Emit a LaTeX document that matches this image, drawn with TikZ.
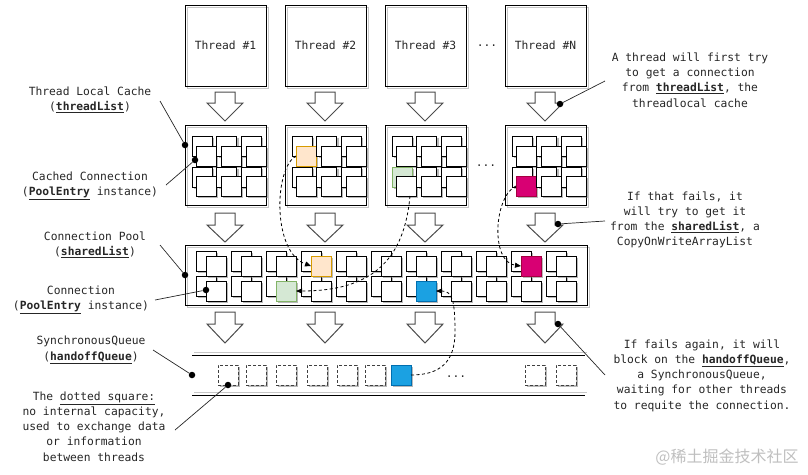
\documentclass[tikz,border=0pt]{standalone}
\usepackage{fontspec}
\newfontfamily\hand{DejaVu Sans Mono}
\newfontfamily\cjk{Noto Sans CJK SC}
\usetikzlibrary{arrows.meta,shadows}
\definecolor{oFill}{HTML}{FFE6CC}\definecolor{oDraw}{HTML}{D79B00}
\definecolor{gFill}{HTML}{D5E8D4}\definecolor{gDraw}{HTML}{82B366}
\definecolor{bFill}{HTML}{1BA1E2}\definecolor{bDraw}{HTML}{006EAF}
\definecolor{mFill}{HTML}{D80073}\definecolor{mDraw}{HTML}{A50040}
\tikzset{
  lbl/.style={font=\hand\fontsize{11.3}{15.2}\selectfont, align=center, inner sep=0pt, text=black!85},
  sq/.style={draw, line width=0.8pt, fill=white, minimum size=20pt, inner sep=0pt, outer sep=0pt,
     drop shadow={shadow xshift=2pt, shadow yshift=-2pt, fill=black!55}},
  osq/.style={fill=oFill, draw=oDraw},
  gsq/.style={fill=gFill, draw=gDraw},
  bsq/.style={fill=bFill, draw=bDraw},
  msq/.style={fill=mFill, draw=mDraw},
  qsq/.style={sq, draw=black!75, dash pattern=on 3pt off 2pt},
  bigbox/.style={draw, line width=0.9pt, inner sep=0pt, outer sep=0pt,
     preaction={draw=black!22, line width=0.9pt, transform canvas={shift={(2.5pt,-2.5pt)}}}},
  blockarr/.style={draw=black!70, line width=1pt, fill=white, line join=miter},
  dot/.style={circle, fill=black, inner sep=0pt, minimum size=6.5pt},
  pointer/.style={line width=0.7pt, black!85},
  dconn/.style={dash pattern=on 3pt off 2.5pt, line width=0.8pt, -{Triangle[length=6pt,width=5pt]}},
  s2-f-1-0/.style={osq},
  s3-b-2-0/.style={gsq},
  s4-f-2-0/.style={msq},
  p-f-1-4/.style={osq},
  p-f-2-3/.style={gsq},
  p-f-2-7/.style={bsq},
  p-f-1-10/.style={msq},
}
\begin{document}
\begin{tikzpicture}[x=1pt,y=-1pt]
\useasboundingbox (0,0) rectangle (808,474);

% threads
\node[bigbox, minimum width=81pt, minimum height=81pt, lbl] (t1) at (225.5,45.5) {Thread \#1};
\node[bigbox, minimum width=81pt, minimum height=81pt, lbl] (t2) at (325.5,45.5) {Thread \#2};
\node[bigbox, minimum width=81pt, minimum height=81pt, lbl] (t3) at (425.5,45.5) {Thread \#3};
\node[bigbox, minimum width=81pt, minimum height=81pt, lbl] (tN) at (545.5,45.5) {Thread \#N};
\node[lbl] (tdots) at (487,46) {...};

% block arrows
\foreach \cx in {225,325,425,545} {
  \foreach \yt/\yh/\yp in {92/103/121, 213/225/242, 312/324/343} {
    \draw[blockarr] (\cx-10,\yt) -- (\cx+10,\yt) -- (\cx+10,\yh) -- (\cx+18,\yh) -- (\cx,\yp)
      -- (\cx-18,\yh) -- (\cx-10,\yh) -- cycle;
  }
}

% cache boxes
\foreach \L/\n in {185/1,285/2,385/3,505/4} {
  \node[bigbox, minimum width=81pt, minimum height=80pt] (cache\n) at (\L+40.5,165) {};
  \foreach \c in {0,1,2} {
    \node[sq, s\n-b-1-\c/.try] (c\n-b-1-\c) at (\L+17+24.5*\c,146) {};
    \node[sq, s\n-f-1-\c/.try] (c\n-f-1-\c) at (\L+21+25*\c,156) {};
  }
  \foreach \c in {0,1,2} {
    \node[sq, s\n-b-2-\c/.try] (c\n-b-2-\c) at (\L+17+24.5*\c,177) {};
    \node[sq, s\n-f-2-\c/.try] (c\n-f-2-\c) at (\L+21+25*\c,186) {};
  }
}
\node[lbl] (cdots) at (486,166) {...};

% connection pool
\node[bigbox, minimum width=402pt, minimum height=60pt] (pool) at (386,275) {};
\foreach \c in {1,...,11} {
  \node[sq] (p-b-1-\c) at (196+35*\c-35+10,261) {};
  \node[sq] (p-b-2-\c) at (196+35*\c-35+10,286) {};
  \node[sq, p-f-1-\c/.try] (p-f-1-\c) at (196+35*\c-35+20,266) {};
  \node[sq, p-f-2-\c/.try] (p-f-2-\c) at (196+35*\c-35+20,291) {};
}

% handoff queue
\coordinate (qtl) at (192,355); \coordinate (qtr) at (585,355);
\coordinate (qbl) at (192,395); \coordinate (qbr) at (585,395);
\draw[black!22, line width=0.9pt] ([shift={(2pt,2.5pt)}]qtl) -- ([shift={(2pt,2.5pt)}]qtr);
\draw[black!22, line width=0.9pt] ([shift={(2pt,2.5pt)}]qbl) -- ([shift={(2pt,2.5pt)}]qbr);
\draw[line width=0.9pt] (qtl) -- (qtr);
\draw[line width=0.9pt] (qbl) -- (qbr);
\foreach \qx [count=\i] in {228,256,286,317,347,375} {
  \node[qsq] (q\i) at (\qx,375) {};
}
\node[sq, bsq] (qb) at (401,375) {};
\node[qsq] (q8) at (535,375) {};
\node[qsq] (q9) at (566,375) {};
\node[lbl] (qdots) at (456,377) {...};

% dashed hand-over connectors
\draw[dconn] (c2-f-1-0.west) .. controls (274,168) and (272,252) .. (p-f-1-4.west);
\draw[dconn] ([xshift=4pt]c3-f-2-0.south) .. controls (404,262) and (370,291) .. (p-f-2-3.east);
\draw[dconn] (c4-f-2-0.west) .. controls (494,196) and (490,262) .. (p-f-1-10.west);
\draw[dconn] (qb.east) .. controls (440,375) and (455,362) .. (455,332)
   .. controls (455,300) and (452,291) .. (p-f-2-7.east);

% left labels
\node[lbl] (lTLC) at (90,100) {Thread Local Cache\\(\underline{\textbf{threadList}})};
\node[lbl] (lCC) at (90,185.5) {Cached Connection\\(\underline{\textbf{PoolEntry}} instance)};
\node[lbl] (lCP) at (95,245) {Connection Pool\\(\underline{\textbf{sharedList}})};
\node[lbl] (lCon) at (81,300) {Connection\\(\underline{\textbf{PoolEntry}} instance)};
\node[lbl] (lSQ) at (91,350) {SynchronousQueue\\(\underline{\textbf{handoffQueue}})};
\node[lbl] (lDS) at (94,426.5) {The \underline{dotted square:}\\no internal capacity,\\used to exchange data\\or information\\between threads};

\node[dot] (d1) at (185,145) {};
\node[dot] (d2) at (195,160) {};
\node[dot] (d3) at (185,275) {};
\node[dot] (d4) at (206,290) {};
\node[dot] (d5) at (192,375) {};
\node[dot] (d6) at (228,385) {};
\coordinate (e1) at (160,101);
\coordinate (e2) at (166,185);
\coordinate (e3) at (160,245);
\coordinate (e4) at (155,300);
\coordinate (e5) at (153,350);
\coordinate (e6) at (175,430);
\foreach \i in {1,...,6} { \draw[pointer] (e\i) -- (d\i); }

% right labels
\node[lbl] (rA) at (690,80) {A thread will first try\\to get a connection\\from \underline{\textbf{threadList}}, the\\threadlocal cache};
\node[lbl] (rB) at (685,220) {If that fails, it\\will try to get it\\from the \underline{\textbf{sharedList}}, a\\CopyOnWriteArrayList};
\node[lbl] (rC) at (702,375.5) {If fails again, it will\\block on the \underline{\textbf{handoffQueue}},\\a SynchronousQueue,\\waiting for other threads\\to requite the connection.};
\node[dot] (r1) at (560,104) {};
\node[dot] (r2) at (558,224) {};
\node[dot] (r3) at (558,324) {};
\coordinate (f1) at (605,81);
\coordinate (f2) at (605,221);
\coordinate (f3) at (605,375);
\foreach \i in {1,2,3} { \draw[pointer] (f\i) -- (r\i); }

% watermark
\node[text=black!25, font=\cjk\fontsize{16}{16}\selectfont, inner sep=0pt] (wm) at (727,457) {@稀土掘金技术社区};
\end{tikzpicture}
\end{document}
